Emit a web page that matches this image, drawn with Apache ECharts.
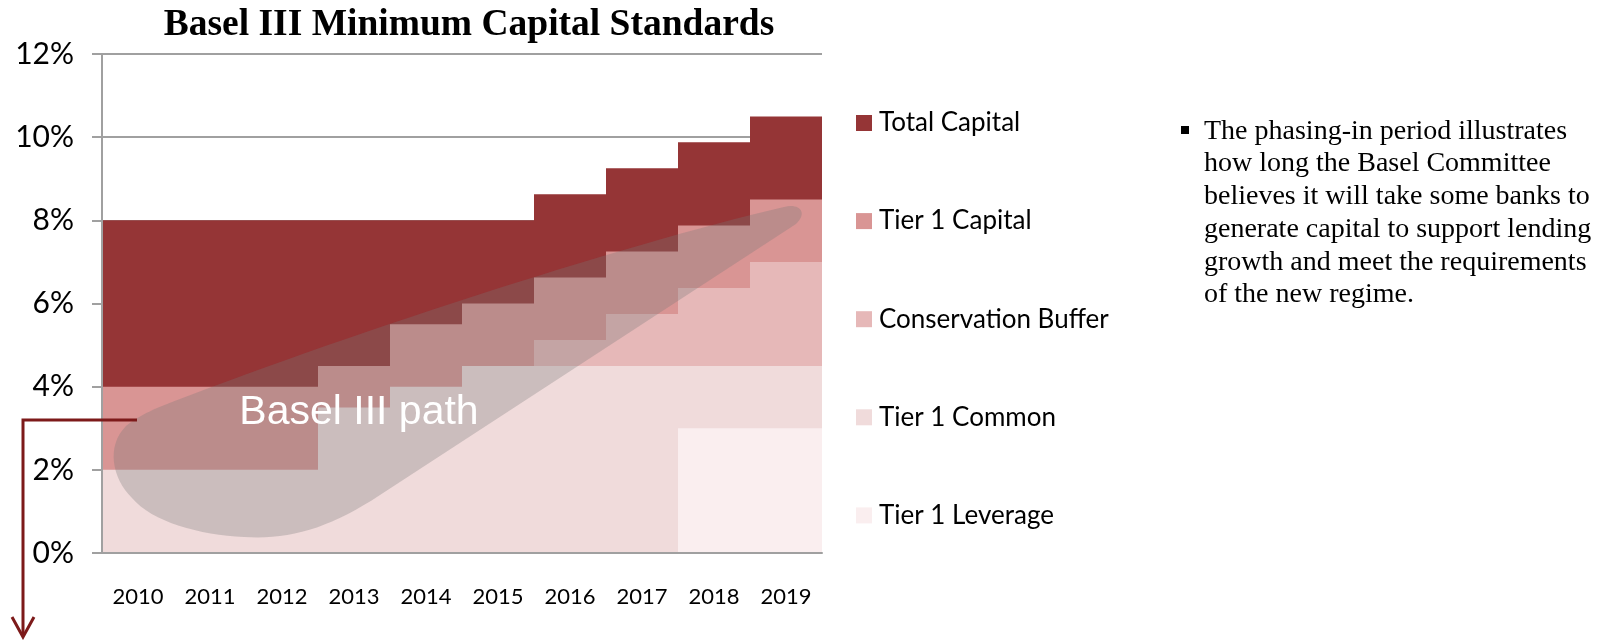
<!DOCTYPE html>
<html>
<head>
<meta charset="utf-8">
<script src="https://cdn.jsdelivr.net/npm/echarts@6/dist/echarts.min.js"></script>
<style>
  html, body { margin: 0; padding: 0; background: #fff; }
  #chart { width: 1621px; height: 640px; }
</style>
</head>
<body>
<div id="chart"></div>
<script>
// requirement level (%) reached by each layer, per year
const years = ['2010', '2011', '2012', '2013', '2014', '2015', '2016', '2017', '2018', '2019'];
const totalCapital = [8, 8, 8, 8, 8, 8, 8.625, 9.25, 9.875, 10.5];
const tier1Capital = [4, 4, 4, 4.5, 5.5, 6, 6.625, 7.25, 7.875, 8.5];
const conservationBuffer = [null, null, null, null, null, null, 5.125, 5.75, 6.375, 7];
const tier1Common = [2, 2, 2, 3.5, 4, 4.5, 4.5, 4.5, 4.5, 4.5];
const tier1Leverage = [null, null, null, null, null, null, null, null, 3, 3];
const yTicks = [0, 2, 4, 6, 8, 10, 12];
const layerNames = ['Total Capital', 'Tier 1 Capital', 'Conservation Buffer', 'Tier 1 Common', 'Tier 1 Leverage'];

const noteLines = [
  'The phasing-in period illustrates',
  'how long the Basel Committee',
  'believes it will take some banks to',
  'generate capital to support lending',
  'growth and meet the requirements',
  'of the new regime.'
];

const AXIS_GREY = '#a0a0a0';
const SANS = "'Liberation Sans Narrow', Lato, sans-serif";
const SERIF = "'Liberation Serif', serif";

// outline of the grey "Basel III path" band, in page pixels
const BAND_PATH = 'M 157 408 C 330 340, 620 245, 784 207 C 800 203, 808 213, 796 224 ' +
  'L 380 495 C 330 528, 290 540, 244 537 C 200 535, 152 522, 132 498 ' +
  'C 112 478, 106 446, 126 426 C 136 418, 148 412, 157 408 Z';

function layer(name, data, color) {
  return {
    name: name,
    type: 'bar',
    data: data,
    barGap: '-100%',
    barCategoryGap: '0%',
    itemStyle: { color: color },
    emphasis: { disabled: true },
    silent: true
  };
}

function renderBand() {
  return {
    type: 'group',
    children: [
      {
        type: 'path',
        shape: { pathData: BAND_PATH },
        style: { fill: 'rgba(120,120,120,0.3)' }
      },
      {
        type: 'text',
        x: 359,
        y: 413,
        style: {
          text: 'Basel III path',
          fill: '#fff',
          font: "41px 'Liberation Sans', Arial, sans-serif",
          align: 'center',
          verticalAlign: 'middle'
        }
      }
    ]
  };
}

const chart = echarts.init(document.getElementById('chart'));

chart.setOption({
  animation: false,
  title: {
    text: 'Basel III Minimum Capital Standards',
    left: 464,
    textAlign: 'center',
    top: 1,
    textStyle: { fontFamily: SERIF, fontWeight: 'bold', fontSize: 37.5, color: '#000' }
  },
  // 720px wide plot so every year band lands on whole pixels (no seams)
  grid: { left: 102, right: 799, top: 54, bottom: 87 },
  legend: {
    data: layerNames,
    orient: 'vertical',
    left: 851,
    top: 105,
    itemWidth: 16,
    itemHeight: 16,
    itemGap: 72.1,
    icon: 'rect',
    selectedMode: false,
    textStyle: { fontFamily: SANS, fontSize: 26, lineHeight: 26, color: '#000', padding: [0, 0, 0, 2] }
  },
  xAxis: {
    type: 'category',
    data: years,
    z: 3,
    axisLine: { lineStyle: { color: AXIS_GREY, width: 2 } },
    axisTick: { length: 9, lineStyle: { color: AXIS_GREY, width: 2 } },
    axisLabel: { margin: 33, fontFamily: SANS, fontSize: 22, color: '#000' },
    splitLine: { show: false }
  },
  yAxis: [
    {
      type: 'value',
      min: yTicks[0],
      max: yTicks[yTicks.length - 1],
      interval: 2,
      axisLine: { show: false },
      axisTick: { show: false },
      axisLabel: { show: false },
      splitLine: { lineStyle: { color: AXIS_GREY, width: 2 } }
    },
    {
      type: 'value',
      position: 'left',
      min: yTicks[0],
      max: yTicks[yTicks.length - 1],
      interval: 2,
      z: 3,
      axisLine: { show: true, lineStyle: { color: AXIS_GREY, width: 2 } },
      axisTick: { show: true, length: 10, lineStyle: { color: AXIS_GREY, width: 2 } },
      axisLabel: { margin: 28, formatter: '{value}%', fontFamily: SANS, fontSize: 30, color: '#000' },
      splitLine: { show: false }
    }
  ],
  series: [
    layer(layerNames[0], totalCapital, '#953536'),
    layer(layerNames[1], tier1Capital, '#d99594'),
    layer(layerNames[2], conservationBuffer, '#e6b8b8'),
    layer(layerNames[3], tier1Common, '#f0dbdb'),
    layer(layerNames[4], tier1Leverage, '#faeeef'),
    {
      type: 'custom',
      coordinateSystem: 'none',
      data: [0],
      z: 10,
      silent: true,
      renderItem: renderBand
    }
  ],
  graphic: [
    {
      // arrow down to the next slide
      type: 'polyline',
      z: 12,
      shape: { points: [[137, 420], [23, 420], [23, 636]] },
      style: { stroke: '#7d1a1a', lineWidth: 3, fill: null }
    },
    {
      type: 'polyline',
      z: 12,
      shape: { points: [[12, 617], [23, 637], [34, 617]] },
      style: { stroke: '#7d1a1a', lineWidth: 3, fill: null }
    },
    {
      type: 'rect',
      z: 12,
      shape: { x: 1181, y: 126, width: 8, height: 8 },
      style: { fill: '#000' }
    },
    {
      type: 'text',
      z: 12,
      x: 1204,
      y: 115,
      style: {
        text: noteLines.join('\n'),
        font: "28px 'Liberation Serif', serif",
        lineHeight: 32.7,
        fill: '#000'
      }
    }
  ]
});
</script>
</body>
</html>
